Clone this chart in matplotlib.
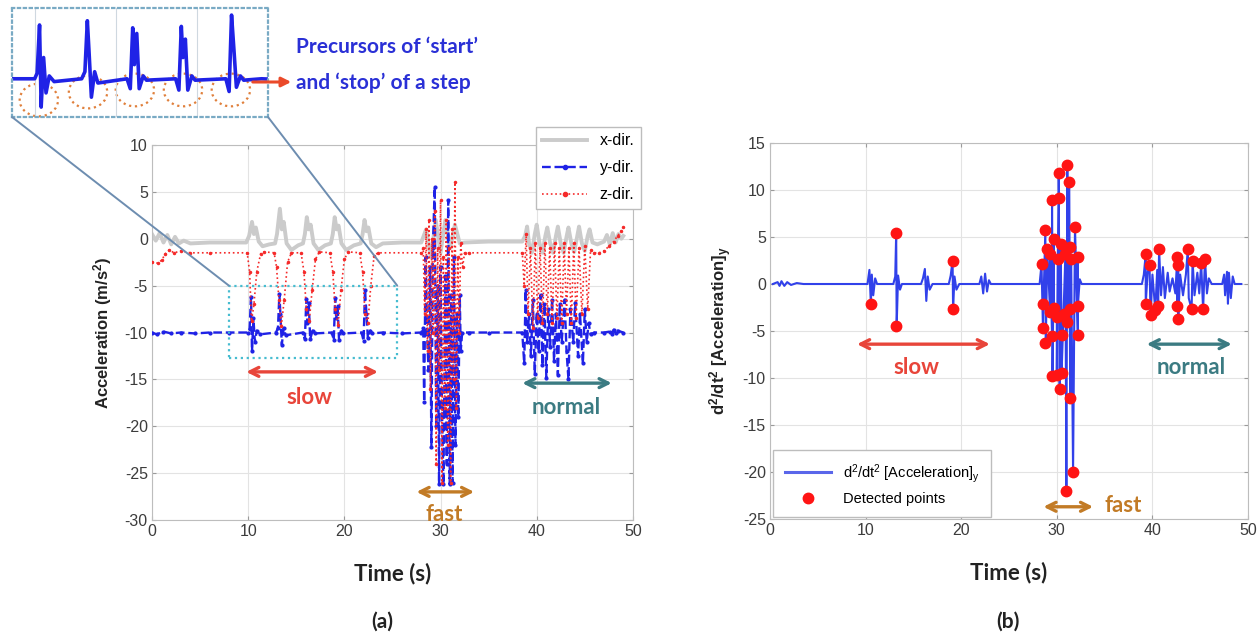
"""
Step-detection figure: (a) raw tri-axial acceleration with a zoomed inset of the
slow-walk segment, (b) second derivative of the y-axis acceleration with the
detected extrema marked.
"""

import matplotlib as mpl
import matplotlib.pyplot as plt
from matplotlib.lines import Line2D
from matplotlib.patches import ConnectionPatch, Ellipse, Rectangle

# ---------------------------------------------------------------- data -----
# (a) acceleration, x-direction (gray)
X_T = [0, 0.4, 0.8, 1.2, 1.6, 2.0, 2.4, 2.8, 3.3, 4, 6, 9.8,
       10.1, 10.4, 10.6, 10.8, 11.1, 11.5, 12.2, 12.8,
       13.0, 13.3, 13.5, 13.7, 14.0, 14.5, 15.2, 15.7,
       15.9, 16.1, 16.3, 16.5, 16.8, 17.3, 18.0, 18.6,
       18.8, 19.0, 19.2, 19.4, 19.7, 20.2, 21.0, 21.7,
       21.9, 22.1, 22.3, 22.5, 22.8, 23.3, 24.0, 26, 28,
       28.5, 29, 29.5, 30, 30.5, 31, 31.5, 32, 32.5, 35, 38.5,
       38.8, 39.0, 39.2, 39.5, 39.8, 40.0, 40.3, 40.6, 40.9, 41.1, 41.4, 41.7,
       42.0, 42.2, 42.5, 42.8, 43.1, 43.3, 43.6, 43.9, 44.2, 44.4, 44.7, 45.0,
       45.3, 45.5, 45.8, 46.3, 47, 47.3, 47.6, 47.9, 48.2, 48.5, 48.8, 49.0]
X_V = [0.5, -0.2, 0.6, -0.4, 0.4, -0.6, 0.2, -0.5, -0.2, -0.5, -0.4, -0.4,
       0.3, 1.8, 0.5, 1.2, -0.3, -0.8, -0.6, -0.5,
       0.5, 3.2, 1.0, 1.8, -0.5, -1.2, -0.7, -0.5,
       0.5, 2.3, 1.0, 1.5, -0.5, -1.2, -0.7, -0.5,
       0.5, 2.3, 1.0, 1.4, -0.5, -1.2, -0.7, -0.5,
       0.5, 2.0, 0.8, 1.2, -0.5, -0.9, -0.5, -0.4, -0.4,
       1, -2, 2, -1.5, 2, -1, 1.5, -0.5, -0.4, -0.3, -0.3,
       0.3, 1.3, -0.5, -1.5, 0.5, 1.5, -0.5, -1.5, 0.3, 1.2, -0.5, -1.5,
       0.3, 1.3, -0.5, -1.5, 0.2, 1.2, -0.5, -1.4, 0.2, 1.3, -0.5, -1.3,
       0.3, 1.0, -0.4, -0.6, -0.3, 0.4, -0.6, 0.6, -0.4, 0.5, 0.0, 0.3]

# (a) acceleration, y-direction (blue)
Y_T = [0, 0.5, 1.2, 2, 3, 4.5, 6, 8, 10.0,
       10.15, 10.3, 10.4, 10.55, 10.7, 10.9, 11.2,
       12.9, 13.1, 13.25, 13.35, 13.5, 13.7, 13.9,
       15.7, 15.9, 16.05, 16.15, 16.3, 16.45, 16.7, 16.9,
       18.7, 18.9, 19.05, 19.15, 19.3, 19.45, 19.7, 19.9,
       21.8, 22.0, 22.15, 22.3, 22.45, 22.7, 22.9, 24, 26, 28.0,
       28.2, 28.3, 28.45, 28.6, 28.75, 28.9, 29.05, 29.2, 29.4, 29.55, 29.7,
       29.85, 30.0, 30.15, 30.3, 30.5, 30.65, 30.8, 30.95, 31.1, 31.25, 31.4,
       31.55, 31.7, 31.85, 32.0, 32.1, 32.25, 33, 35, 38.5,
       38.7, 38.85, 39.0, 39.2, 39.4, 39.6, 39.8, 40.0, 40.2, 40.4, 40.6, 40.8,
       41.0, 41.2, 41.4, 41.6, 41.8, 42.0, 42.2, 42.4, 42.6, 42.9, 43.1, 43.3,
       43.5, 43.8, 44.0, 44.3, 44.5, 44.8, 45.0, 45.2, 45.4, 45.6, 46, 47,
       47.6, 47.8, 48.0, 48.2, 48.4, 49]
Y_V = [-10, -10.2, -9.9, -10.1, -10, -10.1, -10, -10, -10,
       -9.6, -6.2, -12.0, -8.5, -11.0, -9.8, -10.2,
       -10, -9.5, -5.9, -8.0, -11.3, -9.5, -10.3,
       -10, -10.7, -6.4, -9.0, -6.8, -10.7, -9.8, -10.1,
       -10, -10.8, -6.3, -8.5, -7.2, -10.8, -9.8, -10.1,
       -10, -10.9, -5.5, -8.0, -10.6, -9.8, -10.1, -10, -10.1, -10,
       -9.5, -17.4, -2, -10, -14, -3, -22.2, -1, 5.5, -20, -5,
       -26.2, -3, -18, -26.2, -4, -24, 4.1, -26.2, -6, -26.0, -2,
       -22, -8, -19, -6, -12, -10, -10, -10, -10,
       -13.3, -5.5, -11, -8, -12.5, -6.5, -14.4, -8, -12, -6.0, -13.5, -7,
       -14.8, -7.5, -11.5, -6.5, -13, -8, -14.5, -7, -11, -6.5, -12, -15,
       -7.5, -11, -6.8, -12.5, -8, -13.3, -7.5, -11, -9, -10.2, -10, -10,
       -9.9, -10.2, -9.7, -10.1, -9.8, -10]

# (a) acceleration, z-direction (red)
Z_T = [0, 0.6, 1.0, 1.4, 1.8, 2.3, 3, 4, 6, 9.9,
       10.15, 10.35, 10.6, 10.9, 11.3, 11.7, 12.7,
       12.95, 13.2, 13.45, 13.75, 14.1, 14.5, 15.5,
       15.8, 16.05, 16.35, 16.65, 17.0, 17.4, 18.5,
       18.8, 19.05, 19.35, 19.65, 20.0, 20.4, 21.6,
       21.9, 22.15, 22.45, 22.75, 23.1, 23.5, 28,
       28.2, 28.35, 28.5, 28.65, 28.8, 28.95, 29.1, 29.25, 29.4, 29.55, 29.7,
       29.85, 30.0, 30.15, 30.3, 30.45, 30.6, 30.75, 30.9, 31.05, 31.2, 31.35,
       31.5, 31.65, 31.8, 31.95, 32.1, 32.3, 32.5, 33, 38.5,
       38.7, 38.9, 39.1, 39.35, 39.6, 39.85, 40.1, 40.35, 40.6, 40.85, 41.1,
       41.35, 41.6, 41.85, 42.1, 42.35, 42.6, 42.85, 43.1, 43.35, 43.6, 43.85,
       44.1, 44.4, 44.7, 45.0, 45.3, 45.6, 46, 46.5, 47.0, 47.5, 48.0, 48.4,
       48.8, 49]
Z_V = [-2.5, -2.6, -2.3, -1.6, -1.2, -1.5, -1.3, -1.5, -1.5, -1.5,
       -3.5, -8.8, -7.0, -3.5, -1.6, -1.4, -1.5,
       -3.0, -6.5, -9.3, -6.5, -2.5, -1.5, -1.5,
       -3.5, -7.5, -8.8, -5.5, -2.2, -1.4, -1.5,
       -3.5, -7.5, -9.2, -5.5, -2.2, -1.4, -1.5,
       -3.5, -8.0, -9.0, -5.0, -1.8, -1.5, -1.5,
       -1, -8, 1, -12, 2, -16, 0, -10, 3, -24, -1,
       -14, 4.1, -26, -2, -18, 2, -22, -1, -26, 1, -15,
       6.0, -18, -2, -10, -0.5, -3, -1.5, -1.5, -1.5,
       -5, 0.5, -8, -1, -9.5, -0.5, -8.5, -1, -9, -0.5, -8,
       -1, -9, -0.5, -8.5, -1, -9, -0.5, -8, -1, -9, -0.5,
       -8.5, -1, -8, -0.8, -7.5, -1.2, -1.5, -1.5, -1.3, -0.8, -0.3, 0.3,
       0.8, 1.2]

# (b) second derivative of y-acceleration (blue line)
D2_T = [0.3, 0.8, 1.0, 1.2, 1.5, 1.8, 2.2, 2.8, 3.5,
        10.2, 10.4, 10.55, 10.65, 10.8, 11.0, 11.2,
        12.9, 13.1, 13.2, 13.25, 13.4, 13.6, 13.8,
        15.8, 16.0, 16.2, 16.35, 16.5, 16.7, 17.0,
        18.7, 18.9, 19.1, 19.15, 19.3, 19.5, 19.8,
        21.9, 22.1, 22.3, 22.5, 22.7, 22.9, 23.1,
        28.2, 28.4, 28.55, 28.6, 28.8, 28.85, 29.0, 29.3, 29.3, 29.5, 29.5,
        29.55, 29.7, 29.7, 30.0, 30.0, 30.1, 30.2, 30.2, 30.3, 30.4, 30.5,
        30.5, 30.7, 30.9, 31.0, 31.1, 31.1, 31.3, 31.4, 31.4, 31.4, 31.5,
        31.7, 31.9, 32.2, 32.2, 32.2, 32.4, 32.6,
        38.9, 39.1, 39.3, 39.3, 39.5, 39.7, 39.8, 40.0, 40.3, 40.5, 40.6,
        40.7, 40.9, 41.1, 41.3, 41.6, 41.8, 42.1, 42.4, 42.6, 42.6, 42.7,
        42.7, 42.9, 43.2, 43.5, 43.7, 43.8, 44.1, 44.2, 44.4, 44.7, 44.9,
        45.1, 45.3, 45.5, 45.7, 45.9, 46.2,
        47.3, 47.5, 47.6, 47.8, 47.9, 48.0, 48.2, 48.4, 48.6, 49.3]
D2_V = [0, 0.2, -0.2, 0.3, -0.2, 0.2, -0.1, 0.1, 0,
        0, 1.5, -2.1, 1.0, -1.2, 0.6, 0,
        0, 0.8, 5.4, -4.5, 0.9, -0.6, 0,
        0, 0.6, 1.6, -1.8, 0.8, -0.6, 0,
        0, 0.9, 2.5, -2.7, 0.8, -0.6, 0,
        0, 0.8, -1.0, 1.1, -0.8, 0.4, 0,
        0, 2.1, -4.7, -2.1, 5.7, -6.3, 3.7, -3.0, 3.2, -5.5, 8.9,
        -9.8, 4.8, -2.5, -3.5, -9.7, 2.7, 9.2, 11.8, -11.2, 4.3, -5.4,
        -9.5, -3.2, 3.2, -22.0, 12.7, -4.0, 10.9, -12.1, 3.9, -2.7, 2.7,
        -20.0, 6.1, -5.4, 2.9, -2.3, 0.5, 0,
        0, 1.0, 3.2, -2.1, 1.2, 2.0, -3.3, 1.0, -2.8, 1.5, -2.3,
        3.7, -1.2, 1.8, -1.5, 1.2, -0.8, 0.6, -1.0, 2.9, -2.3, 2.0,
        -3.7, 1.0, -1.2, 1.0, 3.7, -1.5, -2.7, 2.5, -1.2, 1.2, -1.0,
        2.2, -2.7, 2.7, -1.0, 0.6, 0,
        0, 1.0, -1.2, 1.3, -2.1, 1.2, -1.5, 0.8, 0, 0]

# (b) detected points (red dots)
DET_T = [10.6, 13.2, 13.2, 19.1, 19.1,
         31.1, 30.2, 31.3, 29.5, 30.2, 28.8, 31.9, 29.0, 28.4, 32.2,
         29.7, 30.4, 30.9, 31.4, 29.3, 30.1, 31.5,
         28.6, 29.3, 30.0, 30.7, 31.4, 32.2, 29.7, 31.1,
         28.6, 28.8, 29.5, 30.5, 32.2, 29.5, 30.5, 30.0, 30.3, 31.4, 31.7, 31.0,
         39.3, 39.7, 40.7, 42.6, 42.7, 43.7, 44.2, 45.5, 45.1,
         39.3, 40.3, 40.6, 42.6, 42.7, 44.1, 45.3, 39.8]
DET_V = [-2.1, 5.4, -4.5, 2.5, -2.7,
         12.7, 11.8, 10.9, 8.9, 9.2, 5.7, 6.1, 3.7, 2.1, 2.9,
         4.8, 4.3, 3.2, 3.9, 3.2, 2.7, 2.7,
         -2.1, -3.0, -3.5, -3.2, -2.7, -2.3, -2.5, -4.0,
         -4.7, -6.3, -5.5, -5.4, -5.4, -9.8, -9.5, -9.7, -11.2, -12.1, -20.0, -22.0,
         3.2, 2.0, 3.7, 2.9, 2.0, 3.7, 2.5, 2.7, 2.2,
         -2.1, -2.8, -2.3, -2.3, -3.7, -2.7, -2.7, -3.3]

SERIES_LABELS = ["x-dir.", "y-dir.", "z-dir."]
D2_LABEL = r"d$^2$/dt$^2$ [Acceleration]$_y$"
DET_LABEL = "Detected points"

# ---------------------------------------------------------------- style ----
C_GRAY = "#cbcbcb"
C_BLUE = "#1f22e6"
C_RED = "#f52a2a"
C_SLOW = "#e8453a"
C_FAST = "#c27b26"
C_NORMAL = "#3b7b82"
C_TEXT = "#3c3c3c"
C_NOTE = "#2a30d6"
C_LINK = "#6d8db0"

mpl.rcParams.update({
    "font.family": ["Liberation Sans", "DejaVu Sans"],
    "font.size": 11,
    "axes.unicode_minus": False,
    "mathtext.default": "regular",
    "axes.edgecolor": "#bdbdbd",
    "axes.linewidth": 0.8,
    "xtick.color": "#9a9a9a",
    "ytick.color": "#9a9a9a",
    "xtick.labelcolor": C_TEXT,
    "ytick.labelcolor": C_TEXT,
    "xtick.direction": "in",
    "ytick.direction": "in",
    "xtick.top": True,
    "ytick.right": True,
    "xtick.major.size": 3,
    "ytick.major.size": 3,
    "grid.color": "#e3e3e3",
    "grid.linewidth": 0.8,
})

BIG = dict(family=["Lato", "DejaVu Sans"], fontweight="bold")


def style_axes(ax, ylim, yticks):
    ax.set_xlim(0, 50)
    ax.set_ylim(*ylim)
    ax.set_xticks(range(0, 51, 10))
    ax.set_yticks(yticks)
    ax.grid(True)
    ax.set_axisbelow(True)
    ax.tick_params(labelsize=11.5, pad=3)


def speed_mark(ax, x0, x1, y, tx, ty, text, color, size=16):
    ax.annotate("", xy=(x0, y), xytext=(x1, y),
                arrowprops=dict(arrowstyle="<->", color=color, lw=2.4,
                                mutation_scale=16, shrinkA=0, shrinkB=0))
    ax.text(tx, ty, text, color=color, fontsize=size, ha="center",
            va="center", **BIG)


fig = plt.figure(figsize=(12.6, 6.39), dpi=100)

# ------------------------------------------------------------ panel (a) ----
ax = fig.add_axes([0.1206, 0.1862, 0.3817, 0.5869])
ax.plot(X_T, X_V, color=C_GRAY, lw=2.8, zorder=2)
ax.plot(Y_T, Y_V, color=C_BLUE, lw=1.7, ls="--", marker=".", ms=4, zorder=3)
ax.plot(Z_T, Z_V, color=C_RED, lw=1.2, ls=":", marker=".", ms=3, zorder=4)
style_axes(ax, (-30, 10), range(-30, 11, 5))
ax.set_ylabel("Acceleration (m/s$^2$)", fontsize=12, fontweight="bold",
              color="#222222", labelpad=8)
ax.set_xlabel("Time (s)", fontsize=16, color="#222222", labelpad=17, **BIG)

ax.add_patch(Rectangle((8, -12.7), 17.5, 7.7, fill=False, ec="#46bcd0",
                       ls=":", lw=1.6, zorder=5))

speed_mark(ax, 9.8, 23.5, -14.2, 16.4, -16.9, "slow", C_SLOW)
speed_mark(ax, 27.5, 33.5, -27.0, 30.4, -29.4, "fast", C_FAST)
speed_mark(ax, 38.5, 47.8, -15.4, 43.1, -18.0, "normal", C_NORMAL)

handles = [
    Line2D([], [], color=C_GRAY, lw=2.8),
    Line2D([], [], color=C_BLUE, lw=1.7, ls="--", marker=".", ms=6),
    Line2D([], [], color=C_RED, lw=1.2, ls=":", marker=".", ms=6),
]
leg = ax.legend(handles, SERIES_LABELS, loc="upper right",
                bbox_to_anchor=(641 / 1260, 1 - 127 / 639),
                bbox_transform=fig.transFigure, borderaxespad=0,
                fontsize=11.5, handlelength=2.8, labelspacing=0.75,
                fancybox=False, framealpha=1, edgecolor="#bdbdbd")
leg.set_zorder(10)

# inset: zoomed view of the slow segment
ax_in = fig.add_axes([12 / 1260, 1 - 117 / 639, 256 / 1260, 109 / 639])
ax_in.plot(Y_T, Y_V, color=C_BLUE, lw=2.6)
ax_in.set_xlim(8.6, 24.4)
ax_in.set_ylim(-12.7, -5.0)
ax_in.set_xticks([10, 15, 20])
ax_in.set_yticks([])
ax_in.tick_params(length=0, labelbottom=False, top=False, right=False)
ax_in.grid(True, axis="x", color="#cfd8e0")
for sp in ax_in.spines.values():
    sp.set_linestyle(":")
    sp.set_linewidth(1.6)
    sp.set_color("#79aac4")
for cx, cy in [(0.105, 0.156), (0.297, 0.229), (0.48, 0.248),
               (0.668, 0.248), (0.855, 0.248)]:
    ax_in.add_patch(Ellipse((cx, cy), 0.15, 0.3, transform=ax_in.transAxes,
                            fill=False, ec="#e0803c", ls=":", lw=1.6,
                            clip_on=False, zorder=1))

for xa, xb in [((0, 0), (8, -5)), ((1, 0), (25.5, -5))]:
    fig.add_artist(ConnectionPatch(xyA=xa, coordsA=ax_in.transAxes,
                                   xyB=xb, coordsB=ax.transData,
                                   color=C_LINK, lw=1.4, zorder=1))

fig.add_artist(mpl.patches.FancyArrowPatch(
    (250 / 1260, 1 - 82 / 639), (294 / 1260, 1 - 82 / 639),
    transform=fig.transFigure, arrowstyle="-|>", mutation_scale=14,
    color="#ea4a2a", lw=2.2))
fig.text(296 / 1260, 1 - 47 / 639, "Precursors of \u2018start\u2019",
         color=C_NOTE, fontsize=15, va="center", ha="left", **BIG)
fig.text(296 / 1260, 1 - 83 / 639, "and \u2018stop\u2019 of a step",
         color=C_NOTE, fontsize=15, va="center", ha="left", **BIG)

# ------------------------------------------------------------ panel (b) ----
bx = fig.add_axes([0.6111, 0.1878, 0.3794, 0.5884])
bx.plot(D2_T, D2_V, color="#3141ea", lw=1.5, zorder=3)
bx.plot(DET_T, DET_V, ls="none", marker="o", ms=7.5, color="#ff1414",
        mec="#ff1414", zorder=4)
style_axes(bx, (-25, 15), range(-25, 16, 5))
bx.set_ylabel(D2_LABEL, fontsize=12, fontweight="bold", color="#222222",
              labelpad=6)
bx.set_xlabel("Time (s)", fontsize=16, color="#222222", labelpad=17, **BIG)

speed_mark(bx, 9.1, 23.0, -6.4, 15.3, -8.9, "slow", C_SLOW)
speed_mark(bx, 39.4, 48.3, -6.4, 44.1, -8.9, "normal", C_NORMAL)
speed_mark(bx, 28.6, 33.8, -23.7, 36.9, -23.6, "fast", C_FAST)

handles_b = [
    Line2D([], [], color="#5a66ea", lw=2.2),
    Line2D([], [], ls="none", marker="o", ms=7.5, color="#ff1414"),
]
bx.legend(handles_b, [D2_LABEL, DET_LABEL], loc="lower left",
          bbox_to_anchor=(0.006, 0.004), borderaxespad=0, fontsize=10.5,
          handlelength=3.2, fancybox=False, framealpha=1,
          edgecolor="#bdbdbd", borderpad=0.8)

fig.text(382 / 1260, 1 - 622 / 639, "(a)", fontsize=15, ha="center",
         va="center", color="#222222", **BIG)
fig.text(1008 / 1260, 1 - 622 / 639, "(b)", fontsize=15, ha="center",
         va="center", color="#222222", **BIG)

fig.savefig("out.png", dpi=100)
